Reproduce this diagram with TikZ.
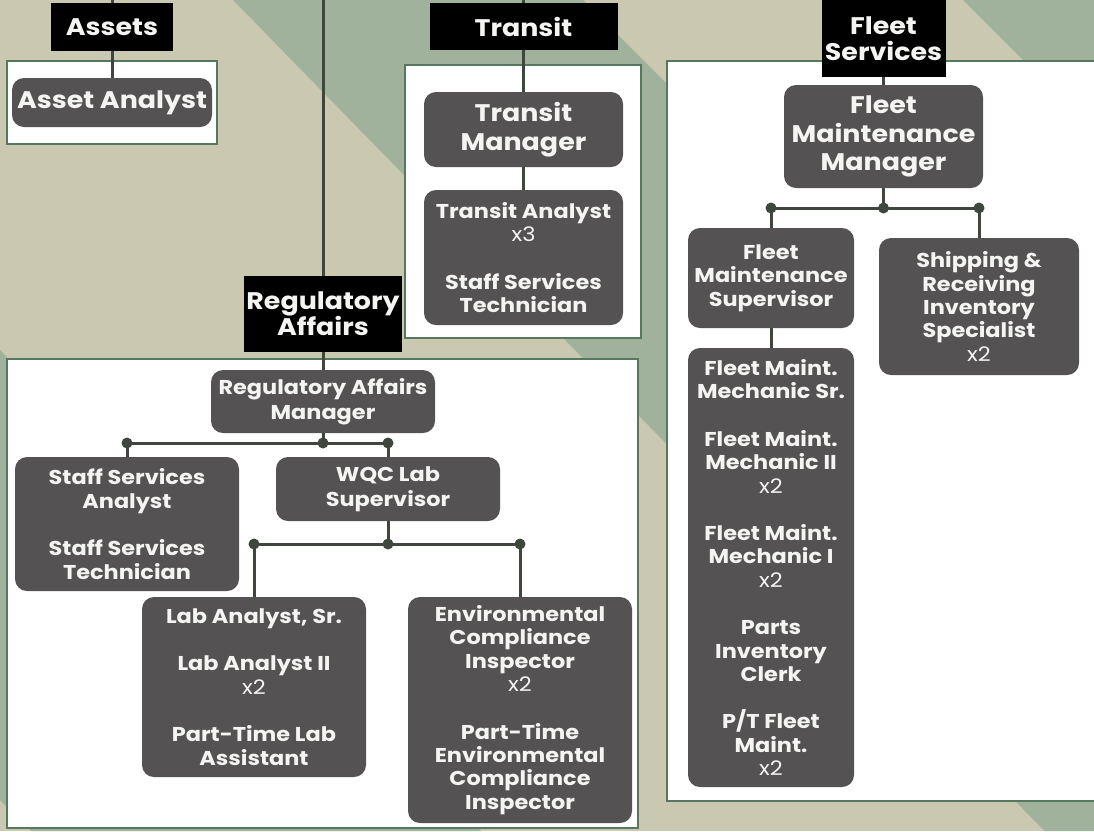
\documentclass[tikz,border=0pt]{standalone}
\usepackage{fontspec}
\setmainfont{Poppins}[FakeStretch=1.12]
\definecolor{sand}{HTML}{CBC8B2}
\definecolor{sage}{HTML}{A0B29B}
\definecolor{slate}{HTML}{545252}
\definecolor{wire}{HTML}{3E463E}
\definecolor{frame}{HTML}{55785F}
\definecolor{ink}{HTML}{F4F4F2}
\newcommand\cnt[1]{{\mdseries #1}}
\begin{document}
\begin{tikzpicture}[x=1pt,y=-1pt,
  role/.style={fill=slate, rounded corners=12pt, text=ink, align=center, inner sep=0pt,
    font=\bfseries\fontsize{20}{23.4}\selectfont},
  bigrole/.style={role, font=\bfseries\fontsize{24}{28.5}\selectfont},
  unit/.style={fill=black, text=ink, align=center, inner sep=0pt,
    font=\bfseries\fontsize{24}{26}\selectfont},
  panel/.style={fill=white, draw=frame, line width=1.5pt},
  link/.style={draw=wire, line width=3pt},
  joint/.style={circle, fill=wire, inner sep=0pt, minimum size=11pt},
]
\useasboundingbox (0,0) rectangle (1094,831);
\clip (0,0) rectangle (1094,831);

% backdrop with diagonal bands
\fill[sand] (0,0) rectangle (1094,831);
\fill[sage] (233,0) -- (583,0) -- (1094,511) -- (1094,831) -- (1044.5,831) -- cycle;
\fill[sage] (963,0) -- (1094,0) -- (1094,131) -- cycle;
\fill[sage] (0,350) -- (481,831) -- (31,831) -- (0,800) -- cycle;

% department panels
\draw[panel] (7,61) rectangle (217,144);
\draw[panel] (405,65) rectangle (641,338);
\draw[panel] (7,359) rectangle (638,828);
\draw[panel] (667,61) rectangle (1110,801);

% department labels
\node[unit, minimum width=122pt, minimum height=48pt] (assets) at (112,27) {Assets};
\node[unit, minimum width=188pt, minimum height=47pt] (transit) at (523.5,26.5) {Transit};
\node[unit, minimum width=124pt, minimum height=77pt] (fleet) at (883.5,38.5) {Fleet\\Services};
\node[unit, minimum width=158pt, minimum height=76pt] (regaff) at (323,314) {Regulatory\\Affairs};

% Assets
\node[role, font=\bfseries\fontsize{24}{28}\selectfont, minimum width=200pt, minimum height=49pt] (aa) at (112,102.5) {Asset Analyst};

% Transit
\node[bigrole, minimum width=199pt, minimum height=75pt] (tm) at (523.5,129.5) {Transit\\Manager};
\node[role, minimum width=199pt, minimum height=135pt] (ta) at (523.5,257.5)
  {Transit Analyst\\\cnt{x3}\\[24pt]Staff Services\\Technician};

% Fleet Services
\node[bigrole, minimum width=199pt, minimum height=103pt] (fmm) at (883.5,136.5) {Fleet\\Maintenance\\Manager};
\node[role, minimum width=166pt, minimum height=100pt] (fms) at (771,278) {Fleet\\Maintenance\\Supervisor};
\node[role, minimum width=200pt, minimum height=137pt] (sr) at (979,306.5)
  {Shipping \&\\Receiving\\Inventory\\Specialist\\\cnt{x2}};
\node[role, minimum width=166pt, minimum height=439pt] (fl) at (771,567.5)
  {Fleet Maint.\\Mechanic Sr.\\[24pt]Fleet Maint.\\Mechanic II\\\cnt{x2}\\[24pt]Fleet Maint.\\Mechanic I\\\cnt{x2}\\[24pt]Parts\\Inventory\\Clerk\\[24pt]P/T Fleet\\Maint.\\\cnt{x2}};

% Regulatory Affairs
\node[role, font=\bfseries\fontsize{20}{25}\selectfont, minimum width=224pt, minimum height=63pt] (ram) at (323,401.5) {Regulatory Affairs\\Manager};
\node[role, minimum width=224pt, minimum height=134pt] (ss) at (127,524)
  {Staff Services\\Analyst\\[24pt]Staff Services\\Technician};
\node[role, font=\bfseries\fontsize{20}{25}\selectfont, minimum width=224pt, minimum height=64pt] (wqc) at (388,489) {WQC Lab\\Supervisor};
\node[role, minimum width=224pt, minimum height=180pt] (lab) at (254,687)
  {Lab Analyst, Sr.\\[24pt]Lab Analyst II\\\cnt{x2}\\[24pt]Part-Time Lab\\Assistant};
\node[role, minimum width=224pt, minimum height=226pt] (env) at (520,710)
  {Environmental\\Compliance\\Inspector\\\cnt{x2}\\[24pt]Part-Time\\Environmental\\Compliance\\Inspector};

% feeds from above
\coordinate (topA) at (112,0);
\coordinate (topR) at (323,0);
\coordinate (topT) at (523.5,0);
\draw[link] (topA) -- (assets.north);
\draw[link] (assets.south) -- (aa.north);
\draw[link] (topR) -- (regaff.north);
\draw[link] (regaff.south) -- (ram.north);
\draw[link] (topT) -- (transit.north);
\draw[link] (transit.south) -- (tm.north);
\draw[link] (tm.south) -- (ta.north);
\draw[link] (fleet.south) -- (fmm.north);

% fleet branch
\coordinate (fj) at (883.5,208);
\coordinate (fjL) at (771,208);
\coordinate (fjR) at (979,208);
\draw[link] (fmm.south) -- (fj);
\draw[link] (fjL) -- (fjR);
\draw[link] (fjL) -- (fms.north);
\draw[link] (fjR) -- (sr.north);
\draw[link] (fms.south) -- (fl.north);
\node[joint] (fd1) at (fjL) {};
\node[joint] (fd2) at (fj) {};
\node[joint] (fd3) at (fjR) {};

% regulatory branch
\coordinate (rj) at (323,443);
\coordinate (rjL) at (127,443);
\coordinate (rjR) at (388,443);
\draw[link] (ram.south) -- (rj);
\draw[link] (rjL) -- (rjR);
\draw[link] (rjL) -- (ss.north);
\draw[link] (rjR) -- (wqc.north);
\node[joint] (rd1) at (rjL) {};
\node[joint] (rd2) at (rj) {};
\node[joint] (rd3) at (rjR) {};

% lab branch
\coordinate (wj) at (388,544);
\coordinate (wjL) at (254,544);
\coordinate (wjR) at (520,544);
\draw[link] (wqc.south) -- (wj);
\draw[link] (wjL) -- (wjR);
\draw[link] (wjL) -- (lab.north);
\draw[link] (wjR) -- (env.north);
\node[joint] (wd1) at (wjL) {};
\node[joint] (wd2) at (wj) {};
\node[joint] (wd3) at (wjR) {};
\end{tikzpicture}
\end{document}
